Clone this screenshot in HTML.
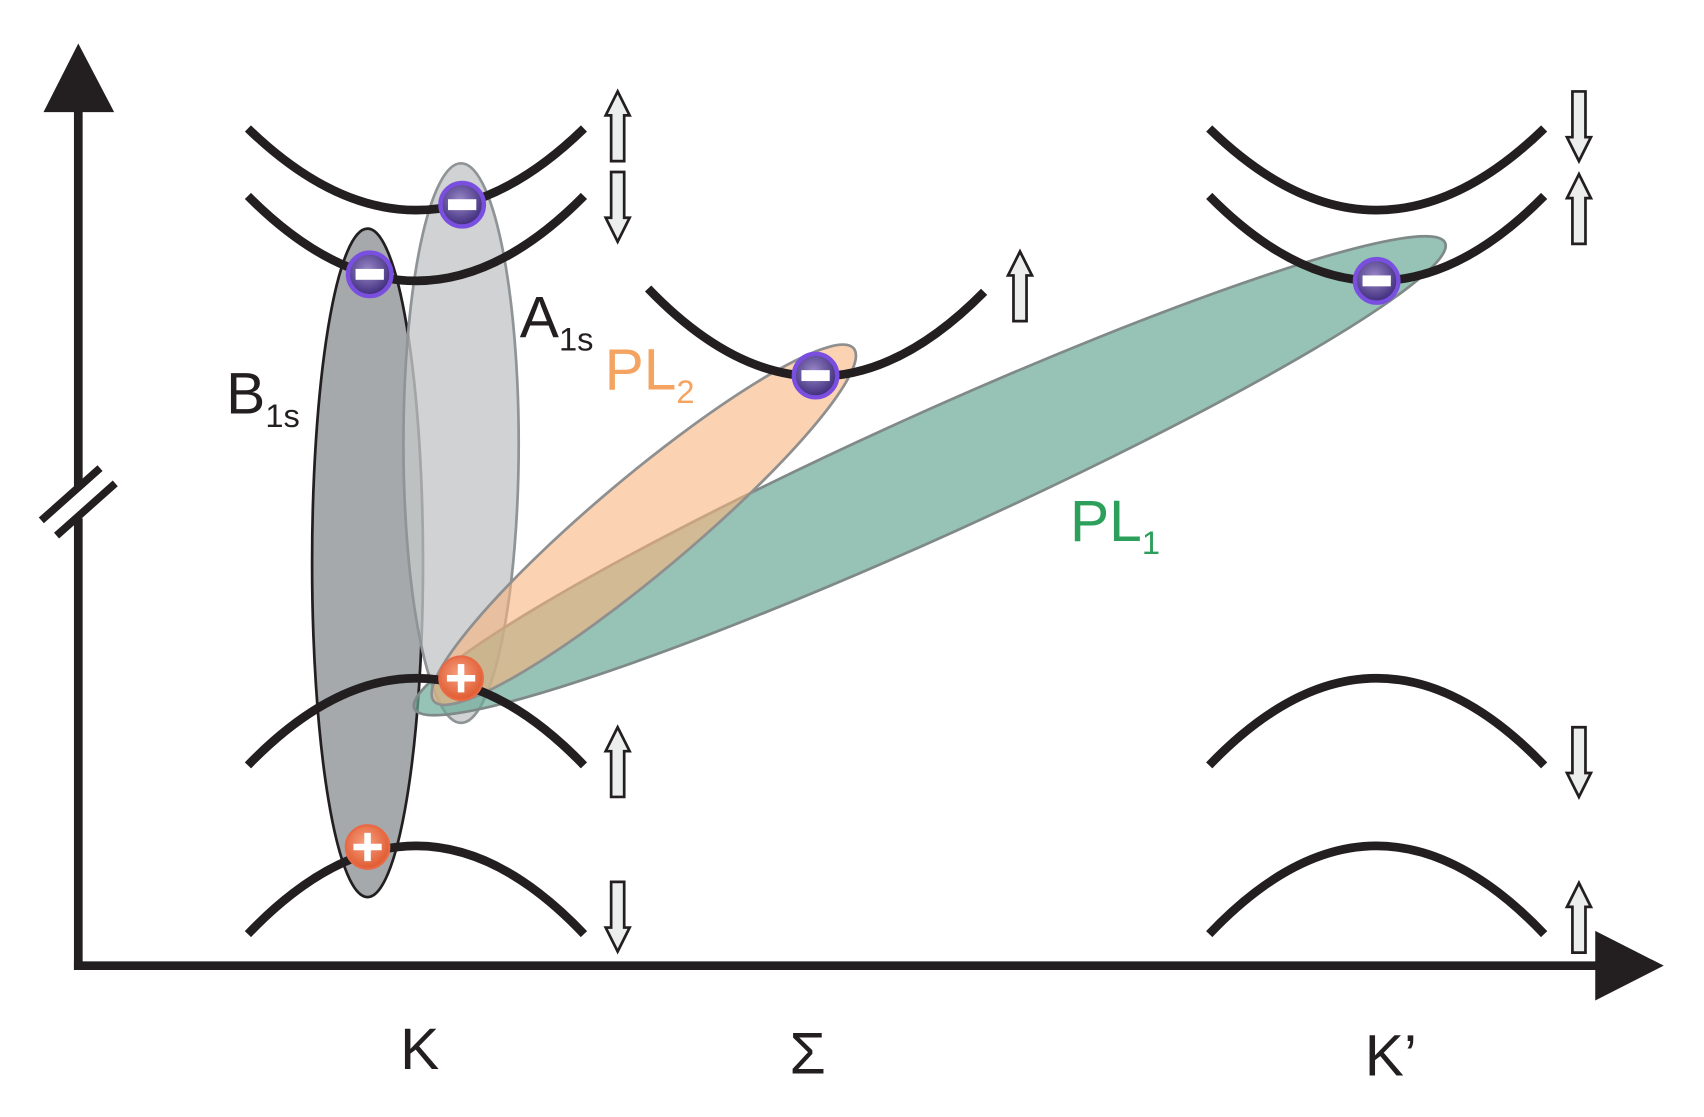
<!DOCTYPE html>
<html><head><meta charset="utf-8"><style>
html,body{margin:0;padding:0;background:#fff;}
svg{display:block;}
</style></head><body>
<svg width="1704" height="1117" viewBox="0 0 1567 1026" preserveAspectRatio="none" xmlns="http://www.w3.org/2000/svg" font-family="Liberation Sans, sans-serif">
<defs>
<radialGradient id="gm" cx="0.45" cy="0.4" r="0.6"><stop offset="0" stop-color="#9a88c8"/><stop offset="1" stop-color="#3c2a7a"/></radialGradient>
<radialGradient id="gp" cx="0.45" cy="0.4" r="0.6"><stop offset="0" stop-color="#f6a080"/><stop offset="1" stop-color="#e05a30"/></radialGradient>
<g id="up"><path d="M0,-32 L-11,-10 L-6,-10 L-6,32 L6,32 L6,-10 L11,-10 Z" fill="#eceeee" stroke="#231f20" stroke-width="2.5" stroke-linejoin="miter"/></g>
<g id="minus"><circle r="20" fill="url(#gm)" stroke="#7a4fe0" stroke-width="4"/><rect x="-13" y="-5" width="26" height="10" fill="#fff"/></g>
<g id="plus"><circle r="20" fill="url(#gp)" stroke="#e86a45" stroke-width="2"/><rect x="-13" y="-3" width="26" height="6" fill="#fff"/><rect x="-3" y="-13" width="6" height="26" fill="#fff"/></g>
</defs>
<line x1="72" y1="100" x2="72" y2="891" stroke="#231f20" stroke-width="8"/>
<polygon points="72,40 40,103 105,103" fill="#231f20"/>
<line x1="68" y1="887" x2="1470" y2="887" stroke="#231f20" stroke-width="8"/>
<polygon points="1530,887 1467,855 1467,919" fill="#231f20"/>
<rect x="60" y="448" width="24" height="28" fill="#fff"/>
<line x1="38" y1="478" x2="92" y2="430" stroke="#231f20" stroke-width="7"/>
<line x1="52" y1="492" x2="106" y2="444" stroke="#231f20" stroke-width="7"/>
<ellipse cx="338" cy="517" rx="51" ry="307" fill="#8e9496" fill-opacity="0.8" stroke="#231f20" stroke-width="2.5"/>
<ellipse cx="424" cy="407" rx="53" ry="257" fill="#c4c7c8" fill-opacity="0.8" stroke="#8f9496" stroke-width="2.5"/>
<ellipse cx="855" cy="437" rx="520" ry="56" transform="rotate(-24.3 855 437)" fill="#6aa996" fill-opacity="0.7" stroke="#7f8a88" stroke-width="2.5"/>
<ellipse cx="592" cy="482" rx="252" ry="44" transform="rotate(-40 592 482)" fill="#f9b47e" fill-opacity="0.6" stroke="#8f8f8f" stroke-width="2.5"/>
<g fill="none" stroke="#231f20" stroke-width="8">
<path d="M228,118 Q383,268 537,118"/>
<path d="M228,180 Q383,336 537,180"/>
<path d="M228,703 Q383,543 537,703"/>
<path d="M228,858 Q383,696 537,858"/>
<path d="M596,265 Q750,425 905,268"/>
<path d="M1112,118 Q1266,268 1420,118"/>
<path d="M1112,180 Q1266,336 1420,180"/>
<path d="M1112,703 Q1266,543 1420,703"/>
<path d="M1112,858 Q1266,696 1420,858"/>
</g>
<use href="#up" transform="translate(568,116)"/>
<use href="#up" transform="translate(568,190) rotate(180)"/>
<use href="#up" transform="translate(568,700)"/>
<use href="#up" transform="translate(568,842) rotate(180)"/>
<use href="#up" transform="translate(938,263)"/>
<use href="#up" transform="translate(1452,116) rotate(180)"/>
<use href="#up" transform="translate(1452,192)"/>
<use href="#up" transform="translate(1452,700) rotate(180)"/>
<use href="#up" transform="translate(1452,843)"/>
<use href="#minus" transform="translate(425,188)"/>
<use href="#minus" transform="translate(340,252)"/>
<use href="#minus" transform="translate(750,345)"/>
<use href="#minus" transform="translate(1266,258)"/>
<use href="#plus" transform="translate(424,623)"/>
<use href="#plus" transform="translate(338,778)"/>
<text x="478" y="310" font-size="54" fill="#231f20">A<tspan font-size="30" dy="12">1s</tspan></text>
<text x="208" y="380" font-size="54" fill="#231f20">B<tspan font-size="30" dy="12">1s</tspan></text>
<text x="556" y="358" font-size="54" fill="#f4a460">PL<tspan font-size="30" dy="12">2</tspan></text>
<text x="984" y="497" font-size="54" fill="#2ca05a">PL<tspan font-size="30" dy="12">1</tspan></text>
<text x="368" y="982" font-size="54" fill="#231f20">K</text>
<text x="726" y="986" font-size="54" fill="#231f20">Σ</text>
<text x="1255" y="988" font-size="54" fill="#231f20">K’</text>
</svg>
</body></html>
